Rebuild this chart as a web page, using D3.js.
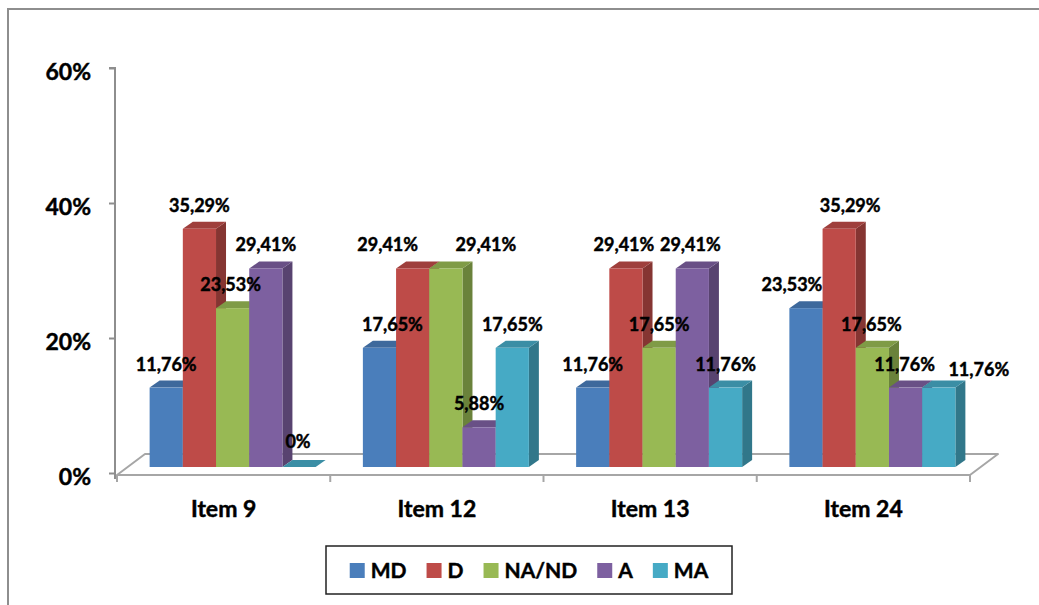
<!DOCTYPE html>
<html>
<head>
<meta charset="utf-8">
<script src="https://cdn.jsdelivr.net/npm/d3@7"></script>
<style>
  body { margin: 0; background: #fff; }
  text { font-family: Lato, "Open Sans", sans-serif; font-weight: bold; fill: #000; stroke: #000; stroke-width: 0.45px; }
</style>
</head>
<body>
<svg id="chart" width="1039" height="605"></svg>
<script>
const categories = ["Item 9", "Item 12", "Item 13", "Item 24"];
const seriesNames = ["MD", "D", "NA/ND", "A", "MA"];
const mdValues = [11.76, 17.65, 11.76, 23.53];
const dValues = [35.29, 29.41, 29.41, 35.29];
const naValues = [23.53, 29.41, 17.65, 17.65];
const aValues = [29.41, 5.88, 29.41, 11.76];
const maValues = [0, 17.65, 11.76, 11.76];
const yTicks = [0, 20, 40, 60];
const colors = ["#4a7ebb", "#be4b48", "#98b954", "#7d60a0", "#46aac5"];

// label nudges (Excel moved a few labels to avoid overlaps), [series][category]
const labelDx = [[0, 13, 0, -14], [0, -25, -2, 11], [-2, 40, 0, -1], [0, 0, -2, -1], [-1, 0, 0, 40]];
const labelDy = [[0, 0, 0, 0], [0, 0, 0, 0], [0, 0, 0, 0], [0, 0, 0, 0], [-2, 0, 0, 5]];

const allValues = [mdValues, dValues, naValues, aValues, maValues];

const svg = d3.select("#chart");

// outer frame (clipped on right / bottom)
svg.append("rect")
  .attr("x", 8).attr("y", 9)
  .attr("width", 1100).attr("height", 700)
  .attr("fill", "none")
  .attr("stroke", "#8e8e8e")
  .attr("stroke-width", 2);

const x = d3.scaleBand().domain(categories).range([117, 970]);
const inner = d3.scaleBand().domain(seriesNames).range([0, 166]);
const y = d3.scaleLinear().domain([0, 60]).range([473, 68]);

const floorD = [28, -21];   // depth of the floor
const barOff = [9, -6];     // bars sit a bit behind the front edge
const barD = [10, -7];      // depth of a bar

// floor
const fy = y(0) + 2;
const fx0 = x.range()[0], fx1 = x.range()[1];
svg.append("path")
  .attr("d", `M${fx0},${fy}L${fx1},${fy}L${fx1 + floorD[0]},${fy + floorD[1]}L${fx0 + floorD[0]},${fy + floorD[1]}Z`)
  .attr("fill", "#fff")
  .attr("stroke", "#a6a6a6")
  .attr("stroke-width", 2)
  .attr("stroke-linejoin", "round");

// value axis
const yAxis = svg.append("g")
  .attr("transform", "translate(115,0)")
  .call(d3.axisLeft(y).tickValues(yTicks).tickFormat(d => d + "%").tickSize(6).tickPadding(18));
yAxis.select(".domain").attr("stroke", "#8e8e8e").attr("stroke-width", 2)
  .attr("d", `M-6,${y(60)}H0V${fy + 4}`);
yAxis.selectAll(".tick line").attr("stroke", "#8e8e8e").attr("stroke-width", 2);
yAxis.selectAll(".tick text")
  .attr("dy", "0.48em")
  .style("font-size", "23px")
  .style("font-family", "Lato, sans-serif")
  .style("font-weight", "bold")
  .attr("fill", "#000");

// category ticks at band edges
const edges = categories.map(c => x(c)).concat([fx1]);
svg.append("g").selectAll("line")
  .data(edges)
  .join("line")
  .attr("x1", d => d).attr("x2", d => d)
  .attr("y1", fy).attr("y2", fy + 7)
  .attr("stroke", "#a6a6a6").attr("stroke-width", 2);

svg.append("g").selectAll("text")
  .data(categories)
  .join("text")
  .attr("x", d => x(d) + x.bandwidth() / 2)
  .attr("y", 517)
  .attr("text-anchor", "middle")
  .style("font-size", "23px")
  .text(d => d);

// bars
const groupPad = (x.bandwidth() - inner.range()[1]) / 2;
const bw = inner.bandwidth();
const bars = svg.append("g");
const labels = svg.append("g");

categories.forEach((cat, ci) => {
  seriesNames.forEach((s, si) => {
    const v = allValues[si][ci];
    const left = x(cat) + groupPad + inner(s) + barOff[0];
    const right = left + bw;
    const bottom = y(0) + barOff[1];
    const top = y(v) + barOff[1];
    const base = d3.rgb(colors[si]);
    const g = bars.append("g");
    // side face
    g.append("path")
      .attr("d", `M${right},${top}L${right + barD[0]},${top + barD[1]}L${right + barD[0]},${bottom + barD[1]}L${right},${bottom}Z`)
      .attr("fill", base.darker(1));
    // top face
    g.append("path")
      .attr("d", `M${left},${top}L${right},${top}L${right + barD[0]},${top + barD[1]}L${left + barD[0]},${top + barD[1]}Z`)
      .attr("fill", base.darker(0.5));
    // front face
    if (v > 0) {
      g.append("rect")
        .attr("x", left).attr("y", top)
        .attr("width", bw).attr("height", bottom - top)
        .attr("fill", colors[si]);
    }
    labels.append("text")
      .attr("x", left + bw / 2 + labelDx[si][ci])
      .attr("y", top - 17 + labelDy[si][ci])
      .attr("text-anchor", "middle")
      .style("font-size", "18px")
      .text(String(v).replace(".", ",") + "%");
  });
});

// legend
const legend = svg.append("g");
legend.append("rect")
  .attr("x", 326).attr("y", 546)
  .attr("width", 406).attr("height", 48)
  .attr("fill", "#fff")
  .attr("stroke", "#222")
  .attr("stroke-width", 1.5);
const items = legend.selectAll("g")
  .data(seriesNames)
  .join("g");
items.append("rect")
  .attr("width", 15).attr("height", 15)
  .attr("y", 563)
  .attr("fill", (d, i) => colors[i]);
items.append("text")
  .attr("x", 21).attr("y", 578)
  .style("font-size", "21px")
  .text(d => d);
let widths = [];
items.each(function () { widths.push(21 + this.querySelector("text").getComputedTextLength()); });
const gap = 20;
const total = d3.sum(widths) + gap * (widths.length - 1);
let cx = 529 - total / 2;
items.each(function (d, i) {
  d3.select(this).attr("transform", `translate(${cx},0)`);
  cx += widths[i] + gap;
});
</script>
</body>
</html>
